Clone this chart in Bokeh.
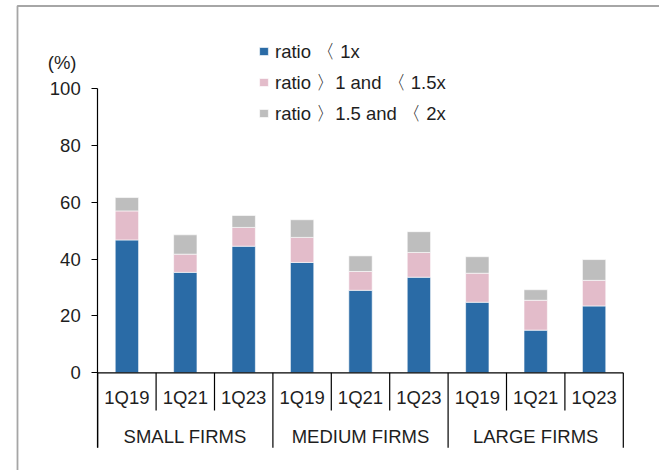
from bokeh.plotting import figure
from bokeh.models import (Range1d, LinearAxis, FixedTicker, Legend, LegendItem,
                          Label, ColumnDataSource)
from bokeh.core.properties import value
from bokeh.embed import file_html
from bokeh.resources import INLINE

# ---------------- data ----------------
groups = ["SMALL FIRMS", "MEDIUM FIRMS", "LARGE FIRMS"]
quarters = ["1Q19", "1Q21", "1Q23"]
ratio_lt_1 = [46.7, 35.3, 44.5, 38.8, 29.0, 33.6, 24.8, 15.0, 23.5]
ratio_1_to_1_5 = [10.2, 6.4, 6.6, 8.8, 6.6, 8.7, 10.2, 10.5, 9.0]
ratio_1_5_to_2 = [4.7, 6.8, 4.2, 6.2, 5.5, 7.3, 5.8, 3.7, 7.3]
series_labels = ["ratio \u3008 1x", "ratio \u30091 and \u3008 1.5x", "ratio \u30091.5 and \u3008 2x"]
y_ticks = [0, 20, 40, 60, 80, 100]
y_unit = "(%)"

# ---------------- styles / layout ----------------
colors = ["#2a6ba6", "#e3bcca", "#bebebe"]
FONT = "Liberation Sans"
FS = "18.5px"
TXT = "#1e1e1e"
W, H = 659, 470
ORIGIN = 0                 # page offset of the canvas
AXIS_PX = 97.2             # page x of first category edge
CAT_PX = 58.4              # pixels per category
ZERO_PX = 372.3            # page y of value 0
UNIT_PX = 2.845            # pixels per percent


def dx(px):
    return (px - AXIS_PX) / CAT_PX


def dy(py):
    return (ZERO_PX - py) / UNIT_PX


n_q = len(quarters)
n = len(groups) * n_q
x_centers = [i + 0.5 for i in range(n)]
quarter_labels = [quarters[i % n_q] for i in range(n)]
group_centers = [g * n_q + n_q / 2 for g in range(len(groups))]

src = ColumnDataSource(dict(x=x_centers, a=ratio_lt_1, b=ratio_1_to_1_5, c=ratio_1_5_to_2))

p = figure(width=W, height=H, output_backend="svg", toolbar_location=None,
           x_range=Range1d(dx(ORIGIN), dx(ORIGIN + W)),
           y_range=Range1d(dy(ORIGIN + H), dy(ORIGIN)),
           x_axis_location=None, y_axis_location=None, title=None,
           min_border=0)
p.min_border_left = p.min_border_right = p.min_border_top = p.min_border_bottom = 0
p.outline_line_color = None
p.grid.visible = False
p.background_fill_color = "white"
p.border_fill_color = "white"

# outer frame border
p.line(x=[dx(17), dx(17), dx(ORIGIN + W)], y=[dy(ORIGIN + H), dy(5.5), dy(5.5)],
       line_color="#a6a6a6", line_width=1.8)

# bars
rs = p.vbar_stack(["a", "b", "c"], x="x", width=0.4, color=colors, source=src,
                  line_color="white", line_width=0.6)

# y axis
y_short = dy(410)
y_long = dy(447.3)
yaxis = LinearAxis(fixed_location=0, ticker=FixedTicker(ticks=y_ticks, minor_ticks=[]),
                   bounds=(y_long, 100))
yaxis.axis_line_color = "black"
yaxis.axis_line_width = 1.2
yaxis.major_tick_line_color = "black"
yaxis.major_tick_line_width = 1.2
yaxis.major_tick_out = 6
yaxis.major_tick_in = 0
yaxis.minor_tick_line_color = None
yaxis.major_label_standoff = 11
yaxis.major_label_text_font = FONT
yaxis.major_label_text_font_size = FS
yaxis.major_label_text_color = TXT
p.add_layout(yaxis, "left")

# x axis line and category separators
p.segment(x0=[0], y0=[0], x1=[n], y1=[0], line_color="black", line_width=1.2)
bounds_x = list(range(n + 1))
sep_y = [y_long if i % n_q == 0 else y_short for i in bounds_x]
p.segment(x0=bounds_x, y0=[0] * len(bounds_x), x1=bounds_x, y1=sep_y,
          line_color="black", line_width=1.2)

# category labels
p.text(x=x_centers, y=[dy(397)] * n, text=quarter_labels, text_font=value(FONT),
       text_font_size=FS, text_align="center", text_baseline="middle", text_color=TXT)
p.text(x=group_centers, y=[dy(435.5)] * len(groups), text=groups, text_font=value(FONT),
       text_font_size=FS, text_align="center", text_baseline="middle", text_color=TXT)

# unit label
p.add_layout(Label(x=dx(76), y=dy(62), text=y_unit, text_align="right",
                   text_baseline="middle", text_font=FONT, text_font_size=FS,
                   text_color=TXT))

# legend
ROW = 24.5
SP = 6
leg_h = 3 * ROW + 2 * SP
leg_top = 52.3 - ROW / 2
items = [LegendItem(label=series_labels[i], renderers=[rs[i]]) for i in range(3)]
legend = Legend(items=items, location=(258 - ORIGIN, H - (leg_top + leg_h - ORIGIN)),
                glyph_width=11, glyph_height=10, label_height=20, spacing=SP,
                label_standoff=6, padding=0, margin=0, border_line_color=None,
                background_fill_alpha=0, label_text_font=FONT,
                label_text_font_size=FS, label_text_color=TXT)
p.add_layout(legend)

open("out.html", "w").write(file_html(p, INLINE))
